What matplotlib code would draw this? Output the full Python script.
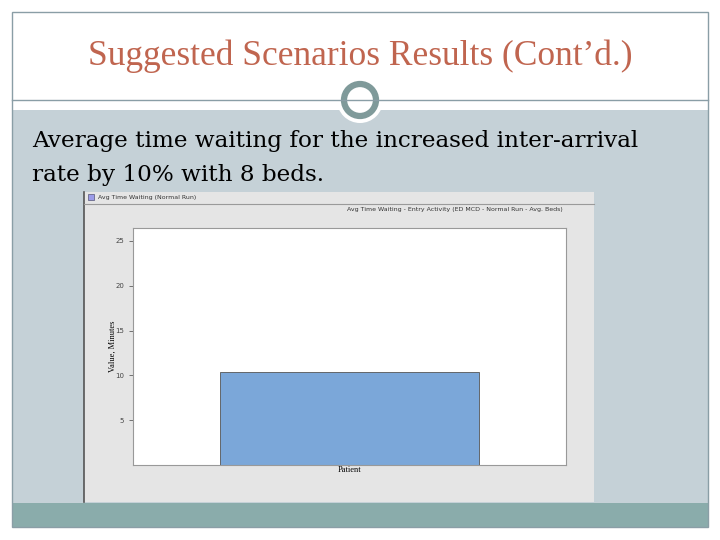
import matplotlib.pyplot as plt
from matplotlib.patches import Rectangle, Circle

# data
categories = ["Patient"]
avg_wait = [10.4]
y_ticks = [5, 10, 15, 20, 25]

fig = plt.figure(figsize=(7.2, 5.4), dpi=100)
fig.patch.set_facecolor("white")

# slide background drawn in pixel coords
bg = fig.add_axes([0, 0, 1, 1])
bg.set_xlim(0, 720)
bg.set_ylim(540, 0)
bg.axis("off")

bg.add_patch(Rectangle((12, 110), 696, 393, facecolor="#c5d1d7", edgecolor="none"))
bg.add_patch(Rectangle((12, 503), 696, 24, facecolor="#8aacab", edgecolor="none"))
bg.add_patch(Rectangle((12, 12), 696, 515, facecolor="none", edgecolor="#8a9ea6", lw=1))
bg.plot([12, 708], [100, 100], color="#8a9ea6", lw=1)
bg.add_patch(Circle((360, 100), 23, facecolor="white", edgecolor="none"))
bg.add_patch(Circle((360, 100), 16, facecolor="white", edgecolor="#7f9a9a", lw=4.5))

bg.text(360, 56, "Suggested Scenarios Results (Cont\u2019d.)", color="#c0654f",
        fontsize=25.5, family="Liberation Serif", ha="center", va="center")
bg.text(32, 141, "Average time waiting for the increased inter-arrival",
        fontsize=16.7, family="DejaVu Serif", ha="left", va="center", color="black")
bg.text(32, 175, "rate by 10% with 8 beds.",
        fontsize=16.7, family="DejaVu Serif", ha="left", va="center", color="black")

# chart screenshot panel
bg.add_patch(Rectangle((84, 192), 510, 310, facecolor="#e5e5e5", edgecolor="none"))
bg.plot([84, 84], [192, 502], color="#555555", lw=1.2)
bg.plot([84, 594], [204, 204], color="#9a9a9a", lw=0.8)
bg.add_patch(Rectangle((88, 194), 6, 6, facecolor="#9a9ae8", edgecolor="#555577", lw=0.5))
bg.text(98, 197.5, "Avg Time Waiting (Normal Run)", fontsize=4.5, color="#333333",
        ha="left", va="center")
bg.text(563, 210, "Avg Time Waiting - Entry Activity (ED MCD - Normal Run - Avg. Beds)",
        fontsize=4.5, color="#333333", ha="right", va="center")

ax = fig.add_axes([133 / 720, (540 - 465) / 540, 433 / 720, (465 - 228) / 540])
ax.set_facecolor("white")
ax.bar(categories, avg_wait, width=0.6, color="#7ba7d9", edgecolor="#555555", lw=0.6)
ax.set_xlim(-0.5, 0.5)
ax.set_ylim(0, 26.45)
ax.set_yticks(y_ticks)
ax.tick_params(axis="both", labelsize=5, length=3, width=0.5, colors="#444444")
for s in ax.spines.values():
    s.set_color("#999999")
    s.set_linewidth(0.8)
ax.set_ylabel("Value, Minutes", fontsize=6, family="Liberation Serif", labelpad=-1)
ax.set_xlabel("Patient", fontsize=6, family="Liberation Serif", labelpad=1)
ax.set_xticks([])

fig.savefig("out.png", dpi=100)
